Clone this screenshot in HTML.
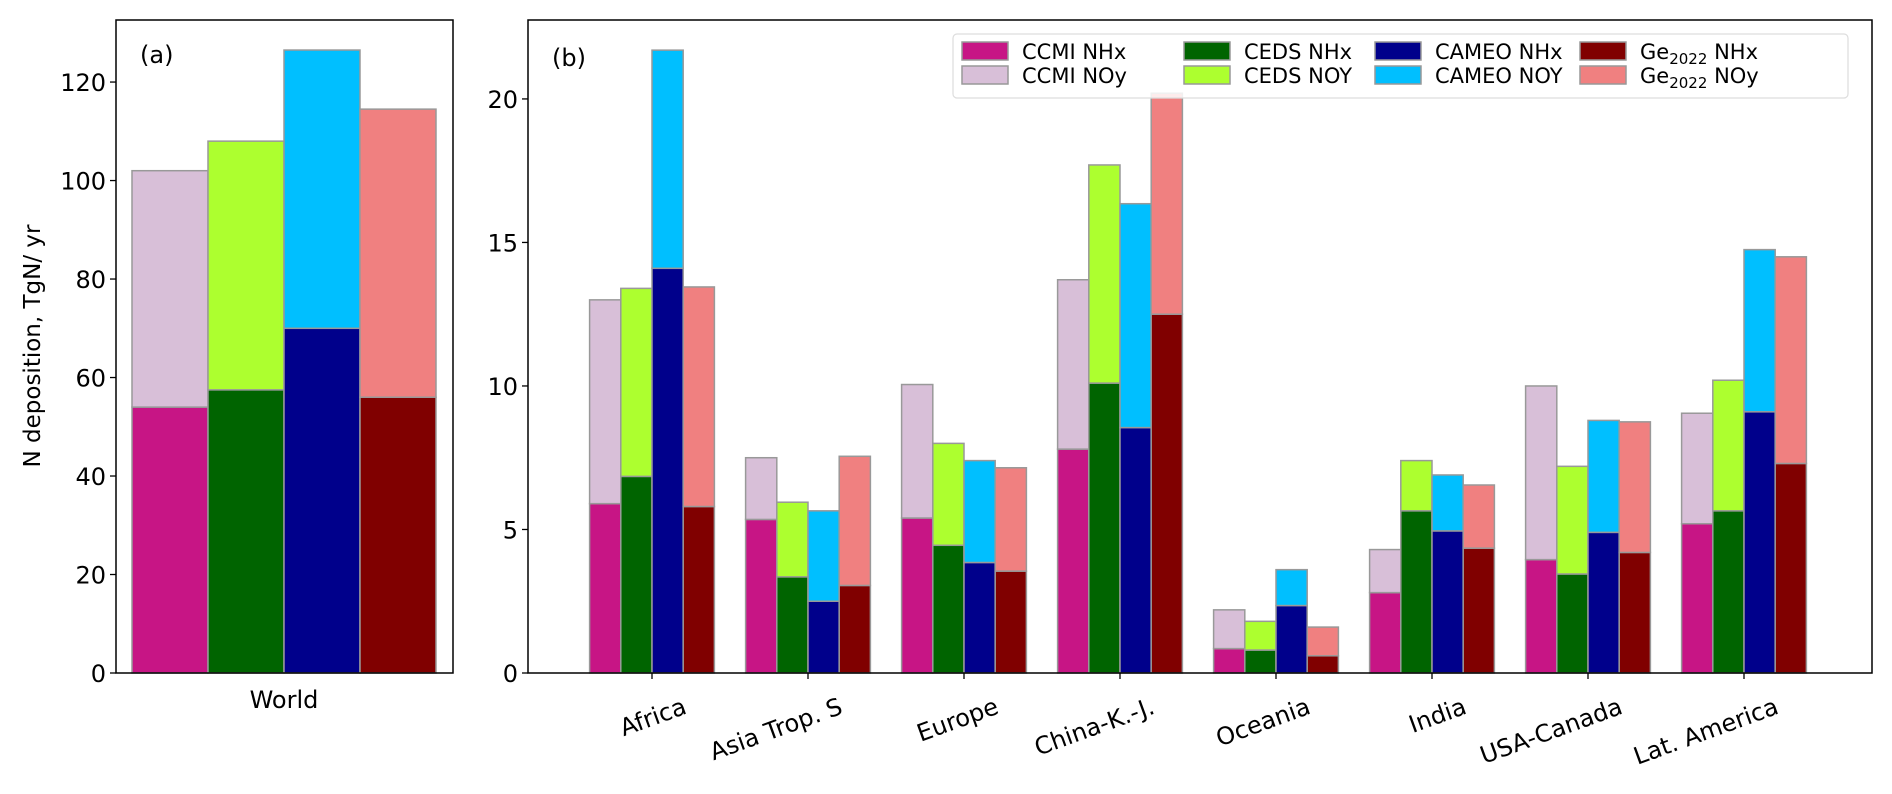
<!DOCTYPE html>
<html><head><meta charset="utf-8"><style>
html,body{margin:0;padding:0;background:#fff}
svg{display:block;font-family:"DejaVu Sans","Liberation Sans",sans-serif}
</style></head><body>
<svg id="chart" width="1892" height="794" viewBox="0 0 1892 794"></svg>
<script>
const models = ["CCMI","CEDS","CAMEO","Ge2022"];
const nhxColors = ["#c71585","#006400","#00008b","#800000"];
const noyColors = ["#d8bfd8","#adff2f","#00bfff","#f08080"];
const worldNHx = [54, 57.5, 70, 56];
const worldTotal = [102, 108, 126.5, 114.5];
const regions = ["Africa","Asia Trop. S","Europe","China-K.-J.","Oceania","India","USA-Canada","Lat. America"];
const ccmiNHx  = [5.9, 5.35, 5.4, 7.8, 0.85, 2.8, 3.95, 5.2];
const ccmiTot  = [13.0, 7.5, 10.05, 13.7, 2.2, 4.3, 10.0, 9.05];
const cedsNHx  = [6.85, 3.35, 4.45, 10.1, 0.8, 5.65, 3.45, 5.65];
const cedsTot  = [13.4, 5.95, 8.0, 17.7, 1.8, 7.4, 7.2, 10.2];
const cameoNHx = [14.1, 2.5, 3.85, 8.55, 2.35, 4.95, 4.9, 9.1];
const cameoTot = [21.7, 5.65, 7.4, 16.35, 3.6, 6.9, 8.8, 14.75];
const geNHx    = [5.8, 3.05, 3.55, 12.5, 0.6, 4.35, 4.2, 7.3];
const geTot    = [13.45, 7.55, 7.15, 20.2, 1.6, 6.55, 8.75, 14.5];
const ticksA = [0,20,40,60,80,100,120];
const ticksB = [0,5,10,15,20];

const NS="http://www.w3.org/2000/svg";
const svg=document.getElementById('chart');
function mk(tag,attrs,parent){const e=document.createElementNS(NS,tag);for(const k in attrs)e.setAttribute(k,attrs[k]);(parent||svg).appendChild(e);return e;}

// panel a
const A={l:116,r:453,t:20,b:673,max:132.6};
const yA=v=>A.b-v/A.max*(A.b-A.t);
const gA=mk('g',{});


const xA0=132,wA=76;
for(let i=0;i<4;i++){
  const x=xA0+i*wA;
  const r1=mk('rect',{x:x,y:yA(worldNHx[i]),width:wA,height:A.b-yA(worldNHx[i]),fill:nhxColors[i],stroke:'#999','stroke-width':1.5},gA);
  
  
  const r2=mk('rect',{x:x,y:yA(worldTotal[i]),width:wA,height:yA(worldNHx[i])-yA(worldTotal[i]),fill:noyColors[i],stroke:'#999','stroke-width':1.5},gA);
  
  
}
mk('rect',{x:A.l,y:A.t,width:A.r-A.l,height:A.b-A.t,fill:'none',stroke:'#000','stroke-width':1.5},gA);
ticksA.forEach(t=>{
  const y=yA(t);
  mk('line',{x1:A.l-6,x2:A.l,y1:y,y2:y,stroke:'#000','stroke-width':1.3},gA);
  const tx=mk('text',{x:A.l-10,y:y+9,'text-anchor':'end','font-size':24},gA);
  tx.textContent=t;
  
  
});
const wl=mk('text',{x:284,y:708,'text-anchor':'middle','font-size':24},gA);wl.textContent='World';


const la=mk('text',{x:140,y:63,'font-size':24},gA);la.textContent='(a)';


const yt=mk('text',{x:0,y:0,'text-anchor':'middle','font-size':23,transform:'translate(40,346) rotate(-90)'},gA);
yt.textContent='N deposition, TgN/ yr';



// panel b
const B={l:528,r:1872,t:20,b:673,max:22.75};
const yB=v=>B.b-v/B.max*(B.b-B.t);
const gB=mk('g',{});


const c0=652,sp=156,bw=31.2;
const nhxSets=[ccmiNHx,cedsNHx,cameoNHx,geNHx];
const totSets=[ccmiTot,cedsTot,cameoTot,geTot];
regions.forEach((reg,j)=>{
  const c=c0+j*sp;
  for(let i=0;i<4;i++){
    const x=c-2*bw+i*bw;
    const n=nhxSets[i][j],t=totSets[i][j];
    const r1=mk('rect',{x:x,y:yB(n),width:bw,height:B.b-yB(n),fill:nhxColors[i],stroke:'#999','stroke-width':1.5},gB);
    
    
    const r2=mk('rect',{x:x,y:yB(t),width:bw,height:yB(n)-yB(t),fill:noyColors[i],stroke:'#999','stroke-width':1.5},gB);
    
    
  }
  mk('line',{x1:c,x2:c,y1:B.b,y2:B.b+6,stroke:'#000','stroke-width':1.3},gB);
  const tx=mk('text',{x:0,y:0,'text-anchor':'end','font-size':24,transform:`translate(${c+36},${B.b+40}) rotate(-20)`},gB);
  tx.textContent=reg;
  
  
});
ticksB.forEach(t=>{
  const y=yB(t);
  mk('line',{x1:B.l-6,x2:B.l,y1:y,y2:y,stroke:'#000','stroke-width':1.3},gB);
  const tx=mk('text',{x:B.l-10,y:y+9,'text-anchor':'end','font-size':24},gB);
  tx.textContent=t;
  
  
});
mk('rect',{x:B.l,y:B.t,width:B.r-B.l,height:B.b-B.t,fill:'none',stroke:'#000','stroke-width':1.5},gB);
const lb=mk('text',{x:552,y:66,'font-size':24},gB);lb.textContent='(b)';



// legend
const gL=mk('g',{});


mk('rect',{x:953,y:34,width:895,height:64,rx:4,fill:'rgba(255,255,255,0.85)',stroke:'#ddd','stroke-width':1.2},gL);
const colX=[962,1184,1375,1580];
const nhxLab=['CCMI NHx','CEDS NHx','CAMEO NHx','Ge'];
const noyLab=['CCMI NOy','CEDS NOY','CAMEO NOY','Ge'];
for(let i=0;i<4;i++){
  [[nhxColors[i],nhxLab[i],' NHx',51],[noyColors[i],noyLab[i],' NOy',75]].forEach(([col,lab,suf,y])=>{
    const p=mk('rect',{x:colX[i],y:y-9,width:46,height:18,fill:col,stroke:'#999','stroke-width':1.5},gL);
    
    
    const t=mk('text',{x:colX[i]+60,y:y+8,'font-size':21},gL);
    
    
    if(i<3){t.textContent=lab;}
    else{
      t.textContent='Ge';
      const s=mk('tspan',{'font-size':15,dy:5},t);s.textContent='2022';
      const s2=mk('tspan',{dy:-5},t);s2.textContent=suf;
    }
  });
}
</script>
</body></html>
